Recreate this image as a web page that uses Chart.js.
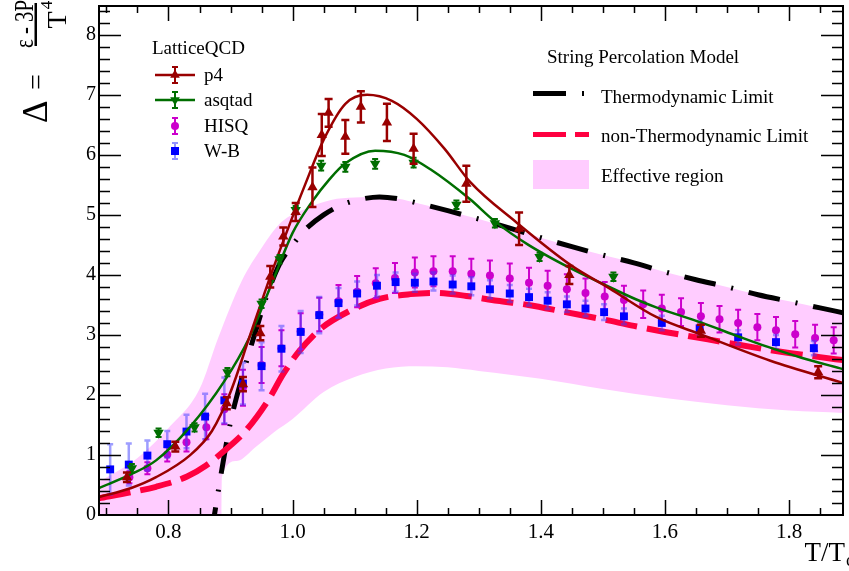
<!DOCTYPE html>
<html>
<head>
<meta charset="utf-8">
<script src="https://cdn.jsdelivr.net/npm/chart.js@4.4.0/dist/chart.umd.min.js"></script>
<style>
  html, body { margin: 0; padding: 0; background: #fff; }
  #wrap { width: 849px; height: 571px; }
</style>
</head>
<body>
<div id="wrap"><canvas id="chart" width="849" height="571"></canvas></div>
<script>
// axis ranges and tick labels
const xMin = 0.688, xMax = 1.887, yMin = 0, yMax = 8.48;
const xTicks = [0.8, 1.0, 1.2, 1.4, 1.6, 1.8];
const yTicks = [0, 1, 2, 3, 4, 5, 6, 7, 8];

// LatticeQCD p4
const p4T = [0.733, 0.811, 0.894, 0.920, 0.948, 0.964, 0.985, 1.005, 1.032, 1.047, 1.058, 1.085, 1.110, 1.152, 1.195, 1.280, 1.365, 1.446, 1.658, 1.847];
const p4D = [0.63, 1.14, 1.86, 2.18, 3.03, 3.97, 4.64, 5.05, 5.46, 6.33, 6.70, 6.30, 6.80, 6.54, 6.10, 5.52, 4.77, 4.00, 3.07, 2.38];
const p4E = [0.08, 0.08, 0.10, 0.12, 0.12, 0.18, 0.15, 0.15, 0.33, 0.35, 0.23, 0.28, 0.26, 0.31, 0.25, 0.30, 0.27, 0.15, 0.10, 0.10];

// LatticeQCD asqtad
const asqT = [0.741, 0.784, 0.842, 0.895, 0.950, 0.979, 1.005, 1.046, 1.085, 1.133, 1.195, 1.264, 1.326, 1.398, 1.517];
const asqD = [0.78, 1.37, 1.46, 2.38, 3.52, 4.26, 5.08, 5.82, 5.80, 5.85, 5.87, 5.17, 4.86, 4.30, 3.97];
const asqE = [0.07, 0.07, 0.07, 0.07, 0.07, 0.07, 0.07, 0.08, 0.08, 0.08, 0.08, 0.07, 0.07, 0.07, 0.07];

// LatticeQCD HISQ
const hisqT = [0.737, 0.766, 0.798, 0.829, 0.861, 0.890, 0.920, 0.950, 0.982, 1.013, 1.043, 1.074, 1.104, 1.134, 1.165, 1.197, 1.227, 1.258, 1.288, 1.318, 1.350, 1.381, 1.411, 1.442, 1.472, 1.503, 1.534, 1.565, 1.595, 1.626, 1.658, 1.688, 1.718, 1.749, 1.779, 1.810, 1.842, 1.872];
const hisqD = [0.63, 0.78, 1.01, 1.21, 1.46, 1.76, 2.12, 2.50, 2.78, 3.06, 3.34, 3.56, 3.72, 3.86, 3.95, 4.04, 4.06, 4.06, 4.02, 3.99, 3.94, 3.87, 3.82, 3.76, 3.70, 3.64, 3.58, 3.51, 3.44, 3.38, 3.31, 3.26, 3.20, 3.13, 3.08, 3.01, 2.95, 2.91];
const hisqE = [0.10, 0.10, 0.12, 0.15, 0.20, 0.25, 0.30, 0.30, 0.30, 0.30, 0.28, 0.27, 0.26, 0.25, 0.25, 0.25, 0.25, 0.25, 0.25, 0.25, 0.25, 0.25, 0.25, 0.25, 0.24, 0.24, 0.24, 0.23, 0.23, 0.23, 0.22, 0.22, 0.22, 0.22, 0.22, 0.22, 0.22, 0.22];

// LatticeQCD W-B
const wbT = [0.706, 0.736, 0.766, 0.798, 0.829, 0.859, 0.890, 0.920, 0.950, 0.982, 1.013, 1.043, 1.074, 1.104, 1.136, 1.166, 1.197, 1.227, 1.258, 1.288, 1.318, 1.350, 1.381, 1.411, 1.442, 1.472, 1.502, 1.534, 1.595, 1.656, 1.718, 1.779, 1.840];
const wbD = [0.76, 0.84, 0.99, 1.18, 1.39, 1.64, 1.91, 2.19, 2.48, 2.77, 3.05, 3.33, 3.53, 3.69, 3.82, 3.88, 3.87, 3.89, 3.84, 3.81, 3.76, 3.69, 3.63, 3.57, 3.51, 3.44, 3.38, 3.31, 3.20, 3.11, 2.96, 2.88, 2.78];
const wbE = [0.42, 0.35, 0.25, 0.22, 0.28, 0.38, 0.38, 0.35, 0.40, 0.38, 0.35, 0.30, 0.25, 0.20, 0.18, 0.16, 0.15, 0.15, 0.15, 0.15, 0.15, 0.14, 0.14, 0.14, 0.13, 0.13, 0.13, 0.13, 0.12, 0.12, 0.12, 0.12, 0.12];

// fitted curves through p4 and asqtad
const p4FitT = [0.688, 0.74, 0.78, 0.834, 0.87, 0.90, 0.93, 0.965, 0.99, 1.02, 1.05, 1.085, 1.12, 1.16, 1.20, 1.245, 1.286, 1.36, 1.45, 1.51, 1.586, 1.66, 1.77, 1.887];
const p4FitD = [0.30, 0.45, 0.63, 0.99, 1.40, 2.05, 2.95, 4.00, 4.70, 5.50, 6.25, 6.85, 7.00, 6.90, 6.60, 6.10, 5.55, 4.88, 4.15, 3.78, 3.30, 3.00, 2.57, 2.20];
const asqFitT = [0.688, 0.74, 0.78, 0.834, 0.89, 0.93, 0.97, 1.00, 1.03, 1.06, 1.085, 1.133, 1.18, 1.222, 1.286, 1.325, 1.38, 1.446, 1.50, 1.554, 1.586, 1.66, 1.72, 1.766, 1.82, 1.887];
const asqFitD = [0.45, 0.68, 0.91, 1.46, 2.23, 2.95, 3.95, 4.70, 5.20, 5.60, 5.86, 6.07, 6.00, 5.76, 5.26, 4.90, 4.50, 4.12, 3.85, 3.59, 3.46, 3.20, 2.97, 2.80, 2.62, 2.43];

// String Percolation Model
const thermoT = [0.868, 0.874, 0.89, 0.90, 0.92, 0.94, 0.96, 0.98, 1.00, 1.02, 1.05, 1.08, 1.11, 1.14, 1.17, 1.20, 1.25, 1.30, 1.35, 1.40, 1.45, 1.50, 1.55, 1.60, 1.65, 1.70, 1.75, 1.80, 1.85, 1.887];
const thermoD = [-0.4, 0.0, 1.0, 1.55, 2.35, 3.05, 3.70, 4.20, 4.50, 4.75, 5.00, 5.17, 5.26, 5.30, 5.27, 5.20, 5.07, 4.93, 4.78, 4.62, 4.47, 4.33, 4.20, 4.05, 3.92, 3.80, 3.67, 3.56, 3.45, 3.37];
const nonThermoT = [0.688, 0.74, 0.78, 0.83, 0.86, 0.89, 0.925, 0.96, 0.985, 1.01, 1.045, 1.09, 1.14, 1.19, 1.23, 1.28, 1.33, 1.38, 1.44, 1.50, 1.55, 1.60, 1.65, 1.70, 1.75, 1.80, 1.85, 1.887];
const nonThermoD = [0.28, 0.38, 0.47, 0.64, 0.82, 1.07, 1.41, 1.90, 2.35, 2.72, 3.10, 3.39, 3.60, 3.68, 3.70, 3.65, 3.57, 3.50, 3.38, 3.26, 3.15, 3.05, 2.96, 2.87, 2.78, 2.70, 2.63, 2.58];
const bandHiT = [0.688, 0.75, 0.80, 0.85, 0.88, 0.918, 0.95, 0.982, 1.02, 1.062, 1.10, 1.14, 1.17, 1.20, 1.25, 1.30, 1.35, 1.40, 1.45, 1.50, 1.55, 1.60, 1.65, 1.70, 1.75, 1.80, 1.85, 1.887];
const bandHiD = [0.55, 0.95, 1.45, 2.10, 2.95, 3.90, 4.45, 4.88, 5.10, 5.25, 5.29, 5.30, 5.27, 5.20, 5.07, 4.93, 4.78, 4.62, 4.47, 4.33, 4.20, 4.05, 3.92, 3.80, 3.67, 3.56, 3.45, 3.37];
const bandLoT = [0.688, 0.885, 0.886, 0.91, 0.94, 0.97, 1.00, 1.05, 1.10, 1.15, 1.20, 1.25, 1.30, 1.40, 1.50, 1.60, 1.70, 1.80, 1.887];
const bandLoD = [-1.0, -1.0, 0.63, 0.90, 1.13, 1.38, 1.60, 2.05, 2.30, 2.44, 2.48, 2.46, 2.40, 2.27, 2.10, 1.95, 1.83, 1.74, 1.70];

const SERIF = "'Liberation Serif', serif";
const RED = '#990000', GREEN = '#006e00', MAGENTA = '#cc00cc', BLUE = '#0000ff';
const PINK = '#ffccff', HOTRED = '#ff0040';

function pts(xs, ys) {
    return xs.map((v, i) => ({ x: v, y: ys[i] }));
}

// error bars, drawn just before the markers of each dataset
const errorBars = {
    id: 'errorBars',
    beforeDatasetDraw(chart, args) {
        const ds = chart.data.datasets[args.index];
        if (!ds.errors) return;
        const { ctx, scales: { x, y } } = chart;
        ctx.save();
        ctx.strokeStyle = ds.errorColor;
        ctx.lineWidth = ds.errorWidth;
        const cap = ds.capHalf;
        ds.data.forEach((p, i) => {
            const px = x.getPixelForValue(p.x);
            const lo = y.getPixelForValue(p.y - ds.errors[i]);
            const hi = y.getPixelForValue(p.y + ds.errors[i]);
            ctx.beginPath();
            ctx.moveTo(px, lo); ctx.lineTo(px, hi);
            ctx.moveTo(px - cap, lo); ctx.lineTo(px + cap, lo);
            ctx.moveTo(px - cap, hi); ctx.lineTo(px + cap, hi);
            ctx.stroke();
        });
        ctx.restore();
    }
};

// ROOT style frame: ticks on all four sides, pointing inwards
const frame = {
    id: 'frame',
    afterDatasetsDraw(chart) {
        const { ctx, chartArea: a, scales: { x, y } } = chart;
        ctx.save();
        ctx.strokeStyle = '#000';
        ctx.lineWidth = 1.5;
        ctx.beginPath();
        for (let k = 14; k <= 37; k++) {
            const px = Math.round(x.getPixelForValue(k * 0.05)) + 0.5;
            if (px < a.left || px > a.right) continue;
            const len = k % 4 === 0 ? 15 : 7;
            ctx.moveTo(px, a.bottom); ctx.lineTo(px, a.bottom - len);
            ctx.moveTo(px, a.top); ctx.lineTo(px, a.top + len);
        }
        for (let k = 0; k <= 42; k++) {
            const py = Math.round(y.getPixelForValue(k * 0.2)) + 0.5;
            if (py < a.top || py > a.bottom) continue;
            const len = k % 5 === 0 ? 22 : 11;
            ctx.moveTo(a.left, py); ctx.lineTo(a.left + len, py);
            ctx.moveTo(a.right, py); ctx.lineTo(a.right - len, py);
        }
        ctx.stroke();
        ctx.lineWidth = 2;
        ctx.strokeRect(a.left, a.top, a.right - a.left, a.bottom - a.top);

        // tick labels
        ctx.fillStyle = '#000';
        ctx.font = '21px ' + SERIF;
        ctx.textAlign = 'center';
        ctx.textBaseline = 'alphabetic';
        xTicks.forEach(v => ctx.fillText(v.toFixed(1), x.getPixelForValue(v), 538));
        ctx.font = '20px ' + SERIF;
        ctx.textAlign = 'right';
        ctx.textBaseline = 'middle';
        yTicks.forEach(v => ctx.fillText(String(v), a.left - 3, y.getPixelForValue(v)));

        // x title T/T_c
        ctx.textBaseline = 'alphabetic';
        ctx.textAlign = 'right';
        ctx.font = '27px ' + SERIF;
        ctx.fillText('T/T', 845, 561);
        ctx.textAlign = 'left';
        ctx.font = '18px ' + SERIF;
        ctx.fillText('c', 846, 566);

        // y title  Δ = (ε - 3P)/T^4, rotated
        ctx.translate(36, 123);
        ctx.rotate(-Math.PI / 2);
        ctx.textAlign = 'left';
        ctx.font = '35px ' + SERIF;
        ctx.fillText('\u0394', 0, 11);
        ctx.font = '28px ' + SERIF;
        ctx.fillText('=', 33, 9);
        ctx.font = '27px ' + SERIF;
        ctx.textAlign = 'center';
        ctx.fillText('\u03B5 - 3P', 99, -3, 48);
        ctx.fillRect(77, -1.5, 43, 2.5);
        ctx.font = '28px ' + SERIF;
        ctx.fillText('T', 103, 30);
        ctx.font = '17px ' + SERIF;
        ctx.fillText('4', 118, 16);
        ctx.restore();
    }
};

function drawMarker(ctx, style, cx, cy, r, color) {
    ctx.fillStyle = color;
    ctx.beginPath();
    if (style === 'up') {
        ctx.moveTo(cx, cy - r); ctx.lineTo(cx + r * 0.87, cy + r * 0.5); ctx.lineTo(cx - r * 0.87, cy + r * 0.5);
    } else if (style === 'down') {
        ctx.moveTo(cx, cy + r); ctx.lineTo(cx + r * 0.87, cy - r * 0.5); ctx.lineTo(cx - r * 0.87, cy - r * 0.5);
    } else if (style === 'circle') {
        ctx.arc(cx, cy, r, 0, Math.PI * 2);
    } else {
        ctx.rect(cx - r, cy - r, 2 * r, 2 * r);
    }
    ctx.closePath();
    ctx.fill();
}

function drawErr(ctx, cx, cy, half, color, width) {
    ctx.strokeStyle = color;
    ctx.lineWidth = width;
    ctx.beginPath();
    ctx.moveTo(cx, cy - half); ctx.lineTo(cx, cy + half);
    ctx.moveTo(cx - 3, cy - half); ctx.lineTo(cx + 3, cy - half);
    ctx.moveTo(cx - 3, cy + half); ctx.lineTo(cx + 3, cy + half);
    ctx.stroke();
}

// the two legends
const legends = {
    id: 'legends',
    afterDraw(chart) {
        const ctx = chart.ctx;
        ctx.save();
        ctx.textAlign = 'left';
        ctx.textBaseline = 'alphabetic';
        const rows = [
            ['p4', 75, RED, 'up', true, RED],
            ['asqtad', 100, GREEN, 'down', true, GREEN],
            ['HISQ', 126, MAGENTA, 'circle', false, MAGENTA],
            ['W-B', 151, BLUE, 'square', false, 'rgba(60,60,255,0.55)']
        ];
        rows.forEach(([label, cy, color, style, line, errColor]) => {
            if (line) {
                ctx.strokeStyle = color;
                ctx.lineWidth = 2.5;
                ctx.beginPath(); ctx.moveTo(155, cy); ctx.lineTo(195, cy); ctx.stroke();
            }
            drawErr(ctx, 175, cy, 8, errColor, 2);
            drawMarker(ctx, style, 175, cy, style === 'square' ? 4 : (style === 'circle' ? 4 : 5.5), color);
            ctx.fillStyle = '#000';
            ctx.font = '19px ' + SERIF;
            ctx.fillText(label, 204, cy + 6);
        });

        ctx.fillStyle = '#000';
        ctx.font = '19px ' + SERIF;
        ctx.fillText('LatticeQCD', 152, 54);
        ctx.fillText('String Percolation Model', 547, 63);
        ctx.fillText('Thermodynamic Limit', 601, 103);
        ctx.fillText('non-Thermodynamic Limit', 601, 142);
        ctx.fillText('Effective region', 601, 182);
        ctx.fillRect(533, 91, 33, 5);
        ctx.fillRect(582, 91, 2, 5);
        ctx.fillStyle = HOTRED;
        ctx.fillRect(533, 132, 33, 5);
        ctx.fillRect(575, 132, 14, 5);
        ctx.fillStyle = PINK;
        ctx.fillRect(533, 160, 56, 29);
        ctx.restore();
    }
};

const lineBase = { showLine: true, pointRadius: 0, pointHoverRadius: 0, cubicInterpolationMode: 'monotone', clip: 0 };

const datasets = [
    // 0,1 effective region band
    Object.assign({}, lineBase, { label: 'Effective region', data: pts(bandHiT, bandHiD), borderWidth: 0, borderColor: PINK, backgroundColor: PINK, fill: '+1', order: 20 }),
    Object.assign({}, lineBase, { label: 'band low', data: pts(bandLoT, bandLoD), borderWidth: 0, borderColor: PINK, backgroundColor: PINK, fill: false, order: 21 }),
    Object.assign({}, lineBase, { label: 'Thermodynamic Limit', data: pts(thermoT, thermoD), borderColor: '#000', borderWidth: 5, borderDash: [32, 16, 2, 16], borderCapStyle: 'butt', fill: false, order: 12 }),
    Object.assign({}, lineBase, { label: 'non-Thermodynamic Limit', data: pts(nonThermoT, nonThermoD), borderColor: HOTRED, borderWidth: 6, borderDash: [32, 10], borderCapStyle: 'butt', fill: false, order: 11 }),
    { label: 'HISQ', data: pts(hisqT, hisqD), pointStyle: 'circle', pointRadius: 4, backgroundColor: MAGENTA, borderColor: MAGENTA, borderWidth: 0,
      errors: hisqE, errorColor: MAGENTA, errorWidth: 2, capHalf: 3, order: 8 },
    { label: 'W-B', data: pts(wbT, wbD), pointStyle: 'rect', pointRadius: 5.6, backgroundColor: BLUE, borderColor: BLUE, borderWidth: 0,
      errors: wbE, errorColor: 'rgba(60,60,255,0.5)', errorWidth: 2.5, capHalf: 3, order: 7 },
    Object.assign({}, lineBase, { label: 'p4 fit', data: pts(p4FitT, p4FitD), borderColor: RED, borderWidth: 2.5, fill: false, order: 4 }),
    Object.assign({}, lineBase, { label: 'asqtad fit', data: pts(asqFitT, asqFitD), borderColor: GREEN, borderWidth: 2.5, fill: false, order: 5 }),
    { label: 'p4', data: pts(p4T, p4D), pointStyle: 'triangle', pointRadius: 6, backgroundColor: RED, borderColor: RED, borderWidth: 0,
      errors: p4E, errorColor: RED, errorWidth: 2.5, capHalf: 4, order: 2 },
    { label: 'asqtad', data: pts(asqT, asqD), pointStyle: 'triangle', rotation: 180, pointRadius: 6, backgroundColor: GREEN, borderColor: GREEN, borderWidth: 0,
      errors: asqE, errorColor: GREEN, errorWidth: 2, capHalf: 3, order: 3 }
];

new Chart(document.getElementById('chart').getContext('2d'), {
    type: 'scatter',
    data: { datasets: datasets },
    options: {
        responsive: false,
        animation: false,
        devicePixelRatio: 1,
        layout: { padding: { left: 99, right: 1, top: 2, bottom: 56 } },
        plugins: {
            legend: { display: false },
            tooltip: { enabled: false },
            filler: { propagate: false }
        },
        scales: {
            x: { type: 'linear', min: xMin, max: xMax, display: false },
            y: { type: 'linear', min: yMin, max: yMax, display: false }
        }
    },
    plugins: [errorBars, frame, legends]
});
</script>
</body>
</html>
